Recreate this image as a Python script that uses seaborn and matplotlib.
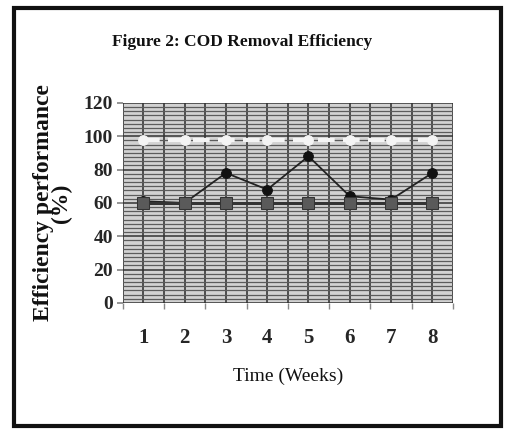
import numpy as np
import pandas as pd
import matplotlib
matplotlib.use("Agg")
import matplotlib.pyplot as plt
from matplotlib.patches import Rectangle
from matplotlib.ticker import MultipleLocator
import seaborn as sns

# ─── Data ─────────────────────────────────────────────────────────────────────
weeks = [1, 2, 3, 4, 5, 6, 7, 8]
cod_removal = [61, 60, 78, 68, 88, 64, 62, 78]
baseline = [60, 60, 60, 60, 60, 60, 60, 60]
target = [98, 98, 98, 98, 98, 98, 98, 98]
y_ticks = [0, 20, 40, 60, 80, 100, 120]

sns.set_theme(style="white")
plt.rcParams["font.family"] = ["Liberation Serif", "DejaVu Serif"]

fig = plt.figure(figsize=(5.05, 4.29), dpi=100)
ax = fig.add_axes([0.243, 0.294, 0.654, 0.466])
ax.set_facecolor("#d2d2d2")

df = pd.DataFrame({"week": weeks, "removal": cod_removal,
                   "baseline": baseline, "target": target})

# grid
ax.xaxis.set_minor_locator(MultipleLocator(0.5))
ax.yaxis.set_minor_locator(MultipleLocator(2.5))
ax.grid(True, which="minor", axis="y", color="#5c5c5c", lw=0.9)
ax.grid(True, which="major", axis="y", color="#333333", lw=1.1)
ax.grid(True, which="both", axis="x", color="#2a2a2a", lw=1.1)
ax.set_axisbelow(True)

sns.lineplot(data=df, x="week", y="target", ax=ax, color="#f4f4f4", lw=3,
             linestyle=(0, (4, 2)), marker="o", markersize=7,
             markeredgecolor="#f4f4f4", markerfacecolor="#f4f4f4")
sns.lineplot(data=df, x="week", y="removal", ax=ax, color="#222222", lw=1.3,
             marker="o", markersize=7, markeredgecolor="#111111",
             markerfacecolor="#111111")
sns.lineplot(data=df, x="week", y="baseline", ax=ax, color="#333333", lw=2.2,
             marker="s", markersize=9, markeredgecolor="#333333",
             markerfacecolor="#5a5a5a")

ax.set_xlim(0.5, 8.5)
ax.set_ylim(0, 120)
ax.set_xticks(weeks)
ax.set_yticks(y_ticks)
ax.set_xticklabels([str(w) for w in weeks], fontsize=15, fontweight="bold")
ax.set_yticklabels([str(v) for v in y_ticks], fontsize=14, fontweight="bold")
ax.tick_params(axis="x", which="major", length=0, pad=18)
ax.tick_params(axis="x", which="minor", length=4, color="#888888", bottom=True)
ax.tick_params(axis="y", which="major", length=4, color="#888888", left=True, pad=3)
ax.tick_params(axis="y", which="minor", length=0)
for side in ax.spines.values():
    side.set_visible(False)

ax.set_xlabel("Time (Weeks)", fontsize=14, labelpad=14, color="#111111")
ax.set_ylabel("Efficiency performance\n(%)", fontsize=17, fontweight="bold",
              linespacing=0.85, labelpad=8, color="#111111")

fig.text(0.48, 0.902, "Figure 2: COD Removal Efficiency", ha="center",
         va="center", fontsize=12.5, fontweight="bold", color="#111111")

# outer frame
fig.patches.append(Rectangle((0.027, 0.006), 0.966, 0.975, transform=fig.transFigure,
                             fill=False, edgecolor="#111111", lw=3))

fig.savefig("out.png", dpi=100)
